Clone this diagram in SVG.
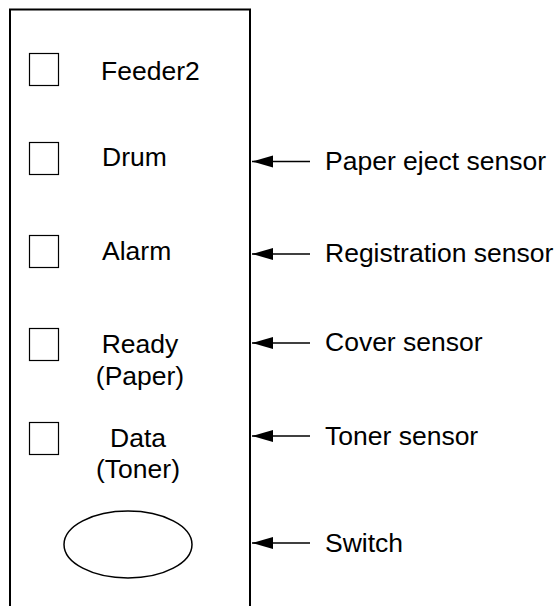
<svg xmlns="http://www.w3.org/2000/svg" width="557" height="606" viewBox="0 0 557 606">
<style>
text{font-family:"Liberation Sans",Arial,sans-serif;font-size:26.5px;fill:#000}
.lamp{fill:#fff;stroke:#000;stroke-width:1.2}
.panel{fill:none;stroke:#000;stroke-width:2}
.conn{stroke:#000;stroke-width:1.3;fill:none}
.c{text-anchor:middle}
</style>
<defs>
<marker id="ah" markerWidth="22" markerHeight="14" refX="21" refY="7" orient="auto" markerUnits="userSpaceOnUse">
<path d="M0,1 L21,7 L0,13 Z" fill="#000"/>
</marker>
</defs>
<rect width="557" height="606" fill="#fff"/>
<g id="panel">
<path class="panel" d="M10,610 V9.5 H250 V610"/>
</g>
<g id="feeder2">
<rect class="lamp" x="29.5" y="53.5" width="29" height="32"/>
<text x="101" y="80">Feeder2</text>
</g>
<g id="drum">
<rect class="lamp" x="29.5" y="142.5" width="29" height="32"/>
<text x="102" y="166">Drum</text>
</g>
<g id="alarm">
<rect class="lamp" x="29.5" y="235.5" width="29" height="32"/>
<text x="102" y="260">Alarm</text>
</g>
<g id="ready">
<rect class="lamp" x="29.5" y="328.5" width="29" height="32"/>
<text class="c" x="140" y="353">Ready</text>
<text class="c" x="140" y="385">(Paper)</text>
</g>
<g id="data">
<rect class="lamp" x="29.5" y="422.5" width="29" height="32"/>
<text class="c" x="138" y="447">Data</text>
<text class="c" x="138" y="478">(Toner)</text>
</g>
<g id="switch">
<ellipse cx="128" cy="544.5" rx="64" ry="33.5" fill="#fff" stroke="#000" stroke-width="1.5"/>
</g>
<g id="paper-eject-sensor"><text x="325" y="170">Paper eject sensor</text></g>
<g id="registration-sensor"><text x="325" y="262">Registration sensor</text></g>
<g id="cover-sensor"><text x="325" y="351">Cover sensor</text></g>
<g id="toner-sensor"><text x="325" y="445">Toner sensor</text></g>
<g id="switch-label"><text x="325" y="552">Switch</text></g>
<g id="connectors">
<line class="conn" x1="310" y1="161.5" x2="252" y2="161.5" marker-end="url(#ah)"/>
<line class="conn" x1="310" y1="254" x2="252" y2="254" marker-end="url(#ah)"/>
<line class="conn" x1="310" y1="343" x2="252" y2="343" marker-end="url(#ah)"/>
<line class="conn" x1="310" y1="436" x2="252" y2="436" marker-end="url(#ah)"/>
<line class="conn" x1="310" y1="543" x2="252" y2="543" marker-end="url(#ah)"/>
</g>
</svg>
